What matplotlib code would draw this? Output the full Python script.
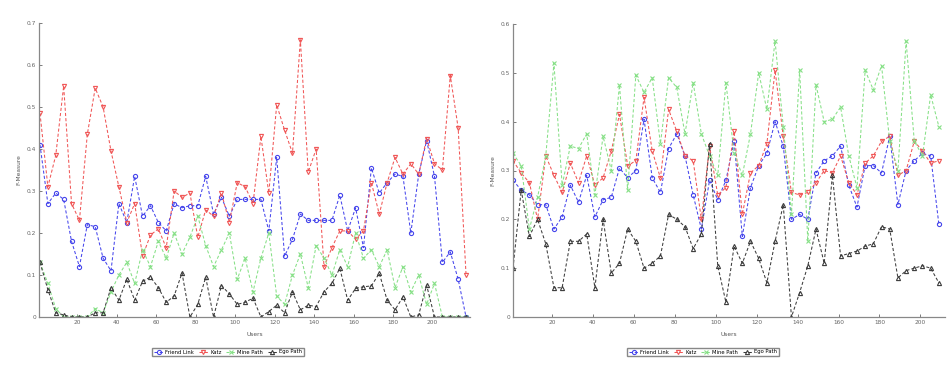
import numpy as np
import matplotlib
matplotlib.use("Agg")
import matplotlib.pyplot as plt

# ---------------- data ----------------
users_left = list(range(1, 218, 4))    # 55 points
users_right = list(range(1, 210, 4))   # 53 points

friend_left = [0.41, 0.27, 0.295, 0.28, 0.18, 0.12, 0.22, 0.215, 0.14, 0.11,
               0.27, 0.225, 0.335, 0.24, 0.265, 0.225, 0.205, 0.27, 0.26, 0.265,
               0.265, 0.335, 0.245, 0.285, 0.24, 0.28, 0.28, 0.28, 0.28, 0.205,
               0.38, 0.145, 0.185, 0.245, 0.23, 0.23, 0.23, 0.23, 0.29, 0.205,
               0.26, 0.165, 0.355, 0.295, 0.32, 0.34, 0.335, 0.20, 0.34, 0.42,
               0.335, 0.13, 0.155, 0.09, 0.0]
katz_left = [0.485, 0.31, 0.385, 0.55, 0.27, 0.23, 0.435, 0.545, 0.50, 0.395,
             0.31, 0.225, 0.27, 0.145, 0.195, 0.21, 0.165, 0.30, 0.285, 0.295,
             0.19, 0.255, 0.24, 0.295, 0.225, 0.32, 0.31, 0.27, 0.43, 0.295,
             0.505, 0.445, 0.39, 0.66, 0.345, 0.40, 0.12, 0.165, 0.205, 0.205,
             0.185, 0.205, 0.32, 0.245, 0.32, 0.38, 0.34, 0.365, 0.34, 0.425,
             0.365, 0.35, 0.575, 0.45, 0.10]
mine_left = [0.13, 0.08, 0.02, 0.0, 0.0, 0.0, 0.0, 0.02, 0.01, 0.06,
             0.10, 0.13, 0.08, 0.16, 0.12, 0.18, 0.14, 0.20, 0.15, 0.19,
             0.24, 0.17, 0.12, 0.16, 0.20, 0.09, 0.14, 0.06, 0.14, 0.20,
             0.05, 0.03, 0.10, 0.15, 0.07, 0.17, 0.14, 0.10, 0.16, 0.12,
             0.20, 0.14, 0.16, 0.12, 0.16, 0.07, 0.12, 0.06, 0.10, 0.03,
             0.08, 0.0, 0.0, 0.0, 0.0]
ego_left = [0.13, 0.065, 0.01, 0.005, 0.0, 0.0, 0.0, 0.01, 0.01, 0.07,
            0.04, 0.09, 0.04, 0.085, 0.095, 0.07, 0.035, 0.05, 0.105, 0.0,
            0.03, 0.095, 0.0, 0.075, 0.055, 0.03, 0.035, 0.045, 0.0, 0.013,
            0.028, 0.01, 0.06, 0.017, 0.028, 0.025, 0.06, 0.08, 0.116, 0.04,
            0.068, 0.072, 0.074, 0.104, 0.04, 0.017, 0.048, 0.0, 0.005, 0.076,
            0.0, 0.0, 0.0, 0.0, 0.0]

friend_right = [0.28, 0.26, 0.25, 0.23, 0.23, 0.18, 0.205, 0.27, 0.235, 0.29,
                0.205, 0.24, 0.245, 0.305, 0.285, 0.30, 0.405, 0.285, 0.255, 0.345,
                0.375, 0.33, 0.25, 0.18, 0.28, 0.24, 0.28, 0.36, 0.165, 0.265,
                0.31, 0.335, 0.40, 0.35, 0.20, 0.21, 0.20, 0.295, 0.32, 0.33,
                0.35, 0.27, 0.225, 0.31, 0.31, 0.295, 0.37, 0.23, 0.30, 0.32,
                0.335, 0.33, 0.19]
katz_right = [0.32, 0.295, 0.275, 0.20, 0.33, 0.29, 0.255, 0.315, 0.275, 0.33,
              0.27, 0.285, 0.34, 0.415, 0.31, 0.32, 0.45, 0.34, 0.285, 0.425,
              0.38, 0.33, 0.32, 0.20, 0.35, 0.25, 0.265, 0.38, 0.21, 0.295,
              0.31, 0.355, 0.505, 0.37, 0.255, 0.25, 0.255, 0.275, 0.30, 0.295,
              0.33, 0.275, 0.25, 0.315, 0.33, 0.36, 0.37, 0.29, 0.30, 0.36,
              0.34, 0.315, 0.32]
mine_right = [0.335, 0.31, 0.18, 0.245, 0.33, 0.52, 0.27, 0.35, 0.345, 0.375,
              0.25, 0.37, 0.30, 0.475, 0.26, 0.495, 0.46, 0.49, 0.355, 0.49,
              0.47, 0.375, 0.48, 0.375, 0.33, 0.29, 0.48, 0.335, 0.29, 0.375,
              0.50, 0.425, 0.565, 0.39, 0.21, 0.505, 0.155, 0.475, 0.40, 0.405,
              0.43, 0.33, 0.265, 0.505, 0.465, 0.515, 0.36, 0.30, 0.565, 0.36,
              0.33, 0.455, 0.39]
ego_right = [0.10, 0.26, 0.165, 0.20, 0.15, 0.06, 0.06, 0.155, 0.155, 0.17,
             0.06, 0.20, 0.09, 0.11, 0.18, 0.155, 0.10, 0.11, 0.125, 0.21,
             0.20, 0.185, 0.14, 0.17, 0.355, 0.105, 0.03, 0.145, 0.11, 0.155,
             0.12, 0.07, 0.155, 0.23, 0.0, 0.05, 0.105, 0.18, 0.11, 0.29,
             0.125, 0.13, 0.135, 0.145, 0.15, 0.185, 0.18, 0.08, 0.095, 0.10,
             0.105, 0.10, 0.07]

labels = ["Friend Link", "Katz", "Mine Path", "Ego Path"]
x_ticks = [20, 40, 60, 80, 100, 120, 140, 160, 180, 200]

# ---------------- style ----------------
colors = ["#4646ec", "#f05656", "#86e086", "#3c3c3c"]
markers = ["o", "v", "x", "^"]
FS = 4.2

fig = plt.figure(figsize=(9.53, 3.67), dpi=100)
ax_l = fig.add_axes([39/953, 50/367, 431/953, 294/367])
ax_r = fig.add_axes([513/953, 50/367, 432/953, 293/367])

def draw(ax, x, series, ymax, xlim):
    handles = []
    for y, c, m, lab in zip(series, colors, markers, labels):
        h, = ax.plot(x, y, linestyle="--", color=c, marker=m, markersize=3,
                     markerfacecolor="none", markeredgewidth=0.8,
                     linewidth=0.75, label=lab, dashes=(3, 2))
        handles.append(h)
    ax.set_xlim(*xlim)
    ax.set_ylim(0, ymax)
    ax.set_xticks(x_ticks)
    ax.set_yticks(np.round(np.arange(0, ymax + 0.001, 0.1), 1))
    ax.set_yticklabels(["0"] + [f"{v:.1f}" for v in np.arange(0.1, ymax + 0.001, 0.1)])
    for s in ["top", "right"]:
        ax.spines[s].set_visible(False)
    for s in ["left", "bottom"]:
        ax.spines[s].set_color("#888888")
        ax.spines[s].set_linewidth(0.9)
    ax.tick_params(direction="in", length=2, width=0.6, colors="#666666",
                   labelsize=FS, pad=2)
    ax.set_xlabel("Users", fontsize=FS, color="#555555", labelpad=5)
    ax.set_ylabel("F-Measure", fontsize=FS, color="#555555", labelpad=4)
    return handles

h_l = draw(ax_l, users_left, [friend_left, katz_left, mine_left, ego_left], 0.7, (0.5, 219))
h_r = draw(ax_r, users_right, [friend_right, katz_right, mine_right, ego_right], 0.6, (1, 212))

for hs, cx in [(h_l, 228/953), (h_r, 703/953)]:
    fig.legend(hs, labels, loc="center", bbox_to_anchor=(cx, 15/367), ncol=4,
               fontsize=3.8, frameon=True, fancybox=False, edgecolor="#888888",
               handlelength=1.8, columnspacing=0.8, handletextpad=0.4,
               borderpad=0.35, framealpha=1)

fig.savefig("out.png", dpi=100)
